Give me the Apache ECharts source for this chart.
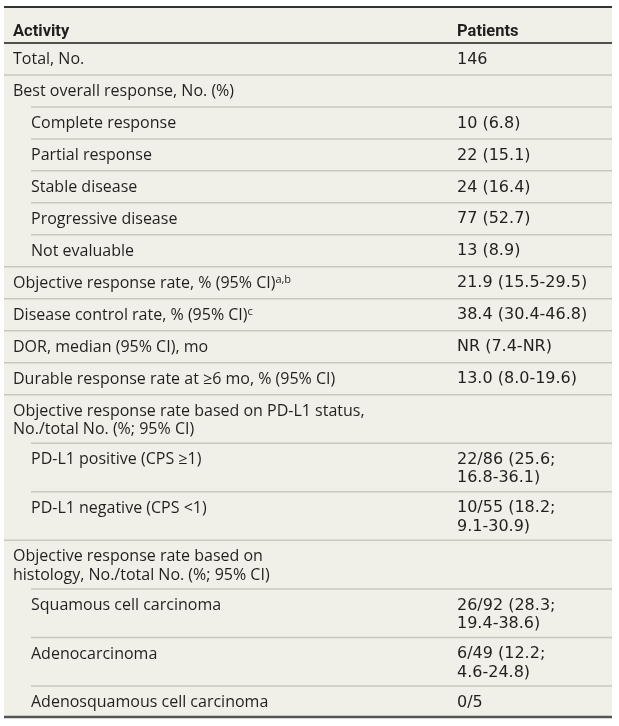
<!DOCTYPE html>
<html>
<head>
<meta charset="utf-8">
<script src="https://cdn.jsdelivr.net/npm/echarts@6/dist/echarts.min.js"></script>
<style>html,body{margin:0;padding:0;background:#fff}#c{width:619px;height:726px}</style>
</head>
<body>
<div id="c"></div>
<script>
// ---- data ----
const headers = ['Activity', 'Patients'];
const activities = [
  'Total, No.',
  'Best overall response, No. (%)',
  'Complete response',
  'Partial response',
  'Stable disease',
  'Progressive disease',
  'Not evaluable',
  'Objective response rate, % (95% CI){sup|a,b}',
  'Disease control rate, % (95% CI){sup|c}',
  'DOR, median (95% CI), mo',
  'Durable response rate at ≥6 mo, % (95% CI)',
  'Objective response rate based on PD-L1 status,\nNo./total No. (%; 95% CI)',
  'PD-L1 positive (CPS ≥1)',
  'PD-L1 negative (CPS <1)',
  'Objective response rate based on\nhistology, No./total No. (%; 95% CI)',
  'Squamous cell carcinoma',
  'Adenocarcinoma',
  'Adenosquamous cell carcinoma'
];
const patients = [
  '146',
  '',
  '10 (6.8)',
  '22 (15.1)',
  '24 (16.4)',
  '77 (52.7)',
  '13 (8.9)',
  '21.9 (15.5-29.5)',
  '38.4 (30.4-46.8)',
  'NR (7.4-NR)',
  '13.0 (8.0-19.6)',
  '',
  '22/86 (25.6;\n16.8-36.1)',
  '10/55 (18.2;\n9.1-30.9)',
  '',
  '26/92 (28.3;\n19.4-38.6)',
  '6/49 (12.2;\n4.6-24.8)',
  '0/5'
];
const indentLevel = [0,0,1,1,1,1,1,0,0,0,0,0,1,1,0,1,1,1];

// ---- layout (px units on the axes) ----
const W = 608, HEADER_H = 37, ROW_H = 32, EXTRA_LINE_H = 16.6;
const rows = [];
let y = 0;
rows.push({y0: 0, y1: HEADER_H, header: true});
y = HEADER_H;
activities.forEach((a, i) => {
  const lines = Math.max(a.split('\n').length, patients[i].split('\n').length);
  const h = ROW_H + (lines - 1) * EXTRA_LINE_H;
  rows.push({y0: y, y1: y + h, i});
  y += h;
});
const TOTAL_H = y;

const FONT1 = '"Open Sans", Roboto, sans-serif';
const FONT2 = '"DejaVu Sans", "Open Sans", sans-serif';
const FONTH = 'Roboto, "Open Sans", sans-serif';
const TXT = '#231f20';
const COL1_X = 9, INDENT_X = 27, COL2_X = 453;
const LH = 18.5;

function renderItem(params, api) {
  const idx = params.dataIndex;
  const r = rows[idx];
  const pTop = api.coord([0, r.y0]);
  const pBot = api.coord([W, r.y1]);
  const xL = pTop[0], xR = pBot[0];
  const top = pTop[1], bot = pBot[1];
  const sx = v => api.coord([v, 0])[0];
  const children = [];
  if (r.header) {
    const ty = bot - 11.5;
    children.push({type:'line', shape:{x1:xL, y1:top+1, x2:xR, y2:top+1}, style:{stroke:'#333333', lineWidth:2}});
    children.push({type:'line', shape:{x1:xL, y1:bot, x2:xR, y2:bot}, style:{stroke:'#505050', lineWidth:2}});
    children.push({type:'text', style:{x:sx(COL1_X), y:ty, text:headers[0], fontFamily:FONTH, fontSize:16.5, fontWeight:'bold', fill:TXT, verticalAlign:'middle'}});
    children.push({type:'text', style:{x:sx(COL2_X), y:ty, text:headers[1], fontFamily:FONTH, fontSize:16.5, fontWeight:'bold', fill:TXT, verticalAlign:'middle'}});
    return {type:'group', children};
  }
  const i = r.i;
  const ty = top + 16.5 - LH / 2;
  const tx = sx(indentLevel[i] ? INDENT_X : COL1_X);
  if (i > 0) {
    const lx = sx(indentLevel[i] ? INDENT_X : 0);
    children.push({type:'line', shape:{x1:lx, y1:top, x2:xR, y2:top}, style:{stroke:'#c8c7be', lineWidth:1.5}});
  }
  if (i === activities.length - 1) {
    children.push({type:'line', shape:{x1:xL, y1:bot - 1, x2:xR, y2:bot - 1}, style:{stroke:'#555555', lineWidth:2.5}});
  }
  children.push({type:'text', style:{
    x:tx, y:ty, text:activities[i], fontFamily:FONT1, fontSize:16, fill:TXT,
    verticalAlign:'top', lineHeight:LH,
    rich:{sup:{fontFamily:FONT1, fontSize:11, fill:TXT, lineHeight:10, verticalAlign:'top'}}
  }});
  if (patients[i]) {
    children.push({type:'text', style:{
      x:sx(COL2_X), y:ty, text:patients[i], fontFamily:FONT2, fontSize:16, fill:TXT,
      verticalAlign:'top', lineHeight:LH
    }});
  }
  return {type:'group', children};
}

const chart = echarts.init(document.getElementById('c'), null, {renderer:'canvas'});
chart.setOption({
  animation: false,
  grid: {left:4, right:7, top:6, bottom:8, show:true, backgroundColor:'#f1f0e8', borderWidth:0},
  xAxis: {type:'value', min:0, max:W, show:false},
  yAxis: {type:'value', min:0, max:TOTAL_H, inverse:true, show:false},
  series: [{
    type:'custom',
    renderItem,
    data: rows.map((r, k) => [k]),
    encode: {x: -1, y: -1},
    clip: false,
    silent: true
  }]
});
</script>
</body>
</html>
